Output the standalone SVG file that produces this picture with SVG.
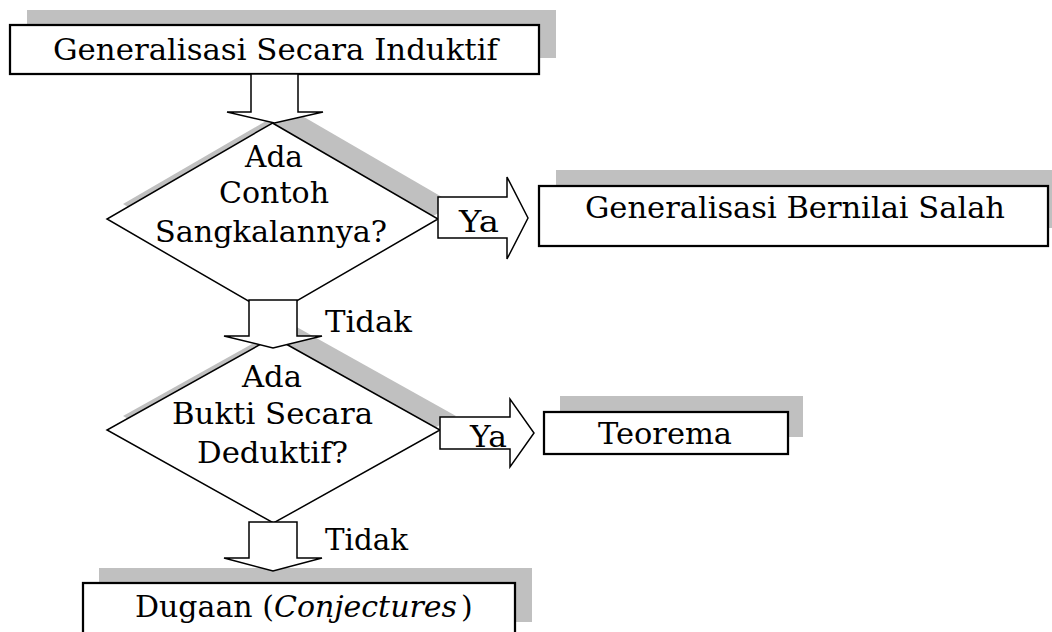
<svg xmlns="http://www.w3.org/2000/svg" width="1052" height="632" viewBox="0 0 1052 632">
<style>
.bg{fill:#ffffff}
.shadow{fill:#c0c0c0;stroke:none}
.box{fill:#ffffff;stroke:#000000;stroke-width:2.25}
.shape{fill:#ffffff;stroke:#000000;stroke-width:1.5;stroke-linejoin:miter}
.t{font-family:"DejaVu Serif","Liberation Serif",serif;font-size:30px;fill:#000000}
.m{text-anchor:middle}
</style>
<rect class="bg" x="0" y="0" width="1052" height="632"/>

<g id="node-induktif">
  <rect class="shadow" x="27" y="10" width="529" height="48"/>
  <rect class="box" x="10" y="25" width="529" height="49"/>
  <text class="t m" x="275.5" y="60" textLength="445" lengthAdjust="spacingAndGlyphs">Generalisasi Secara Induktif</text>
</g>

<g id="node-salah">
  <rect class="shadow" x="556" y="170" width="509" height="58"/>
  <rect class="box" x="539" y="186" width="509" height="60"/>
  <text class="t m" x="795" y="218" textLength="420" lengthAdjust="spacingAndGlyphs">Generalisasi Bernilai Salah</text>
</g>

<g id="node-teorema">
  <rect class="shadow" x="560" y="396" width="243" height="41"/>
  <rect class="box" x="544" y="412" width="244" height="42"/>
  <text class="t m" x="665" y="444" textLength="134" lengthAdjust="spacingAndGlyphs">Teorema</text>
</g>

<g id="node-dugaan">
  <rect class="shadow" x="99" y="568" width="433" height="54"/>
  <rect class="box" x="83" y="583" width="432" height="54"/>
  <text class="t" x="135" y="617">Dugaan (<tspan font-style="italic">Conjectures</tspan><tspan dx="4">)</tspan></text>
</g>

<g id="node-sangkalan">
  <path class="shadow" transform="translate(16,-15)" d="M272.5,123 L438,219 L272.5,315 L107,219 Z"/>
  <path class="shape" d="M272.5,123 L438,219 L272.5,315 L107,219 Z"/>
  <text class="t m" x="274" y="167" textLength="58" lengthAdjust="spacingAndGlyphs">Ada</text>
  <text class="t m" x="274" y="203" textLength="110" lengthAdjust="spacingAndGlyphs">Contoh</text>
  <text class="t m" x="271" y="242" textLength="232" lengthAdjust="spacingAndGlyphs">Sangkalannya?</text>
</g>

<g id="node-bukti">
  <path class="shadow" transform="translate(16,-14)" d="M273.5,337 L440,430 L273.5,523 L107,430 Z"/>
  <path class="shape" d="M273.5,337 L440,430 L273.5,523 L107,430 Z"/>
  <text class="t m" x="272" y="387" textLength="60" lengthAdjust="spacingAndGlyphs">Ada</text>
  <text class="t m" x="272.5" y="424" textLength="201" lengthAdjust="spacingAndGlyphs">Bukti Secara</text>
  <text class="t m" x="272.5" y="463" textLength="151" lengthAdjust="spacingAndGlyphs">Deduktif?</text>
</g>

<g id="connectors">
  <path class="shape" d="M251,74 L251,112 L227,112 L274.5,123 L323,112 L298,112 L298,74 Z"/>
  <path class="shape" d="M438,197 L507,197 L507,177 L528,218 L507,259 L507,238 L438,238 Z"/>
  <text class="t m" x="479" y="232" textLength="40" lengthAdjust="spacingAndGlyphs">Ya</text>
  <path class="shape" d="M249,300 L249,336 L224,336 L273,348 L322,336 L297,336 L297,300 Z"/>
  <text class="t" x="325" y="332" textLength="87" lengthAdjust="spacingAndGlyphs">Tidak</text>
  <path class="shape" d="M440,417 L510,417 L510,399 L534,433 L510,467 L510,449 L440,449 Z"/>
  <text class="t m" x="488.5" y="447" textLength="37" lengthAdjust="spacingAndGlyphs">Ya</text>
  <path class="shape" d="M249,522 L249,558 L224,558 L273,571 L322,558 L297,558 L297,522 Z"/>
  <text class="t" x="325" y="550" textLength="83" lengthAdjust="spacingAndGlyphs">Tidak</text>
</g>
</svg>
